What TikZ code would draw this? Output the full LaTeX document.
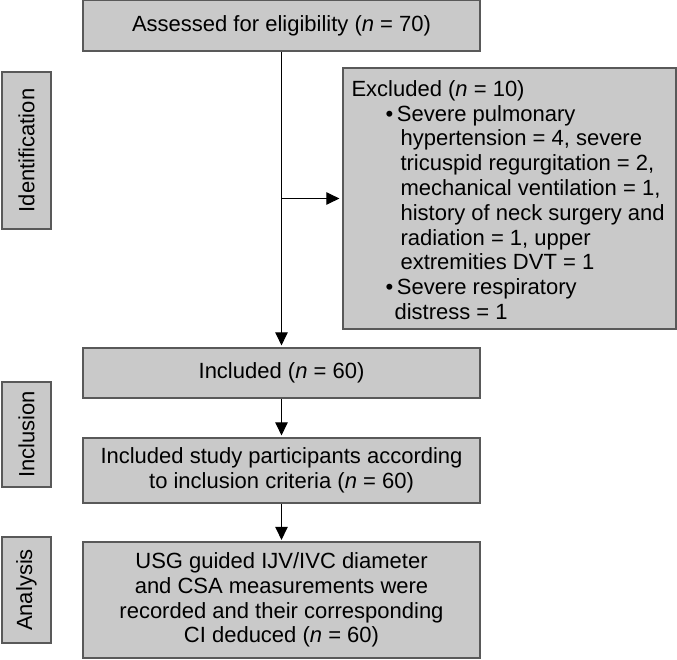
\documentclass[tikz,border=0pt]{standalone}
\usepackage{fontspec}
\setmainfont{Liberation Sans}
\usetikzlibrary{arrows.meta}
\begin{document}
\begin{tikzpicture}[x=1pt,y=-1pt,
  box/.style={draw=black!65,line width=1.3pt,fill=black!21,inner sep=0pt,
    font=\fontsize{22}{24.8}\selectfont,align=center,minimum width=397pt},
  sidebox/.style={draw=black!65,line width=1.3pt,fill=black!21,inner sep=0pt,
    font=\fontsize{22}{24.8}\selectfont,rotate=90,minimum height=49pt},
  txt/.style={inner sep=0pt,font=\fontsize{22}{24.8}\selectfont,align=left},
  conn/.style={draw=black,line width=1pt,-{Triangle[length=13pt,width=12.5pt]}}]
\useasboundingbox (0,0) rectangle (677,659);
\node[box,minimum height=51pt] (top) at (281.5,25.5) {Assessed for eligibility (\textit{n} = 70)};
\node[box,minimum width=333pt,minimum height=261pt] (excl) at (509.5,198.5) {};
\node[txt,anchor=west] (excltext) at ([xshift=9pt,yshift=-1.5pt]excl.west)
 {Excluded (\textit{n} = 10)\\
 \hspace*{34pt}•\,Severe pulmonary\\
 \hspace*{49pt}hypertension = 4, severe\\
 \hspace*{49pt}tricuspid regurgitation = 2,\\
 \hspace*{49pt}mechanical ventilation = 1,\\
 \hspace*{49pt}history of neck surgery and\\
 \hspace*{49pt}radiation = 1, upper\\
 \hspace*{49pt}extremities DVT = 1\\
 \hspace*{34pt}•\,Severe respiratory\\
 \hspace*{43pt}distress = 1};
\node[box,minimum height=50pt] (incl) at (281.5,373) {Included (\textit{n} = 60)};
\node[box,minimum height=65pt] (study) at (281.5,470.5) {Included study participants according\\to inclusion criteria (\textit{n} = 60)};
\node[box,minimum height=116pt] (anal) at (281.5,600) {USG guided IJV/IVC diameter\\and CSA measurements were\\recorded and their corresponding\\CI deduced (\textit{n} = 60)};
\node[sidebox,minimum width=157pt] (lident) at (26.5,150.5) {Identification};
\node[sidebox,minimum width=105pt] (lincl) at (26.5,434.5) {Inclusion};
\node[sidebox,minimum width=106pt] (lanal) at (26.5,590) {Analysis};
\coordinate (branch) at (top.south |- excl.west);
\draw[conn,shorten >=2pt] (top.south) -- (incl.north);
\draw[conn,shorten >=3pt] (branch) -- (excl.west);
\draw[conn,shorten >=2pt] (incl.south) -- (study.north);
\draw[conn,shorten >=1.5pt] (study.south) -- (anal.north);
\end{tikzpicture}
\end{document}
